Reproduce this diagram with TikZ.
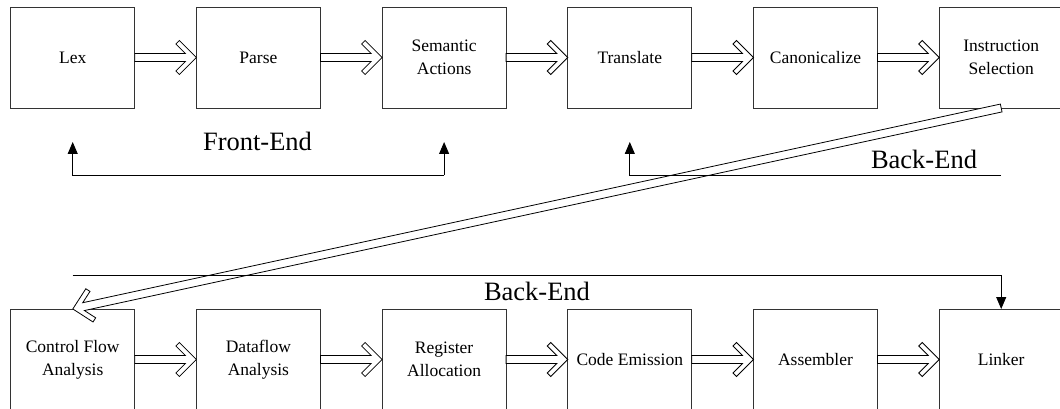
\documentclass[tikz,border=0pt]{standalone}
\usepackage{fontspec}
\setmainfont{Liberation Serif}
\newfontfamily\stagefont{Liberation Serif}
\usetikzlibrary{arrows.meta,positioning,calc}

\begin{document}
\begin{tikzpicture}[
  x=1pt, y=-1pt,
  node distance=61.7pt and 61.7pt,
  stage/.style={rectangle,draw=black!80,line width=0.9pt,minimum width=124pt,minimum height=101pt,inner sep=0pt,outer sep=0pt,align=center,font=\stagefont\fontsize{17.5}{23}\selectfont},
  phase/.style={font=\stagefont\fontsize{26.5}{30}\selectfont,anchor=base,inner sep=0pt},
  flow/.style={draw=black,line width=0.8pt,fill=white,line join=miter,
    to path={let \p1=($(\tikztotarget)-(\tikztostart)$),\n1={veclen(\x1,\y1)},\n2={atan2(\y1,\x1)} in
      {[shift={(\tikztostart)},rotate=\n2] (0,4) -- ({\n1-11},4) -- ({\n1-20.5},13.5) -- ({\n1-17},17) -- (\n1,0)
        -- ({\n1-17},-17) -- ({\n1-20.5},-13.5) -- ({\n1-11},-4) -- (0,-4) -- cycle}}},
  feed/.style={-{Triangle[length=12pt,width=10pt]},line width=0.9pt}]
\useasboundingbox (0,0) rectangle (1060,409);
% front and back end stages
\node[stage] (lex) at (72.7,57.5) {Lex};
\node[stage,right=of lex] (parse) {Parse};
\node[stage,right=of parse] (sem) {Semantic\\Actions};
\node[stage,right=of sem] (trans) {Translate};
\node[stage,right=of trans] (canon) {Canonicalize};
\node[stage,right=of canon] (isel) {Instruction\\Selection};
\node[stage,below=201pt of lex] (cfa) {Control Flow\\Analysis};
\node[stage,right=of cfa] (dfa) {Dataflow\\Analysis};
\node[stage,right=of dfa] (ralloc) {Register\\Allocation};
\node[stage,right=of ralloc] (emit) {Code Emission};
\node[stage,right=of emit] (asm) {Assembler};
\node[stage,right=of asm] (linker) {Linker};
% hollow arrows
\foreach \a/\b in {lex/parse,parse/sem,sem/trans,trans/canon,canon/isel,cfa/dfa,dfa/ralloc,ralloc/emit,emit/asm,asm/linker}
  \draw[flow] (\a.east) to (\b.west);
\draw[flow] (isel.south) to (cfa.north);
% phase brackets
\coordinate (lexin) at ([yshift=-34pt]lex.south);
\coordinate (semin) at ([yshift=-34pt]sem.south);
\coordinate (transin) at ([yshift=-34pt]trans.south);
\coordinate (feleft) at ([yshift=-67pt]lex.south);
\coordinate (feright) at ([yshift=-67pt]sem.south);
\coordinate (beright) at ([yshift=-67pt]isel.south);
\coordinate (bbleft) at ([yshift=33.5pt]cfa.north);
\draw[feed] (feright) -- (feleft) -- (lexin);
\draw[feed] (feright) -- (semin);
\draw[feed] (beright) -| (transin);
\draw[feed] (bbleft) -| (linker.north);
\node[phase] (fe) at (257.5,150) {Front-End};
\node[phase] (betop) at (924,168.3) {Back-End};
\node[phase] (bebot) at (537,300.7) {Back-End};
\end{tikzpicture}
\end{document}
